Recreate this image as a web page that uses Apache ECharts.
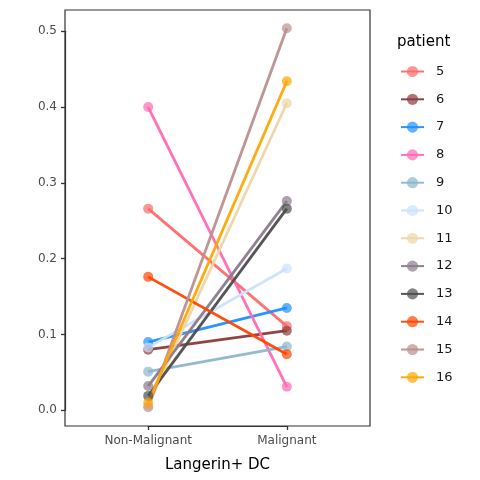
<!DOCTYPE html>
<html>
<head>
<meta charset="utf-8">
<script src="https://cdn.jsdelivr.net/npm/echarts@6/dist/echarts.min.js"></script>
<style>html,body{margin:0;padding:0;background:#fff}#c{width:480px;height:480px}</style>
</head>
<body>
<div id="c"></div>
<script>
const categories = ['Non-Malignant', 'Malignant'];
const patients = ['5','6','7','8','9','10','11','12','13','14','15','16'];
const nonMalignant = [0.266, 0.080, 0.090, 0.400, 0.051, 0.083, 0.007, 0.032, 0.019, 0.176, 0.004, 0.010];
const malignant    = [0.111, 0.105, 0.135, 0.031, 0.084, 0.187, 0.405, 0.276, 0.266, 0.074, 0.504, 0.434];
const colors = ['#FF6A6A', '#8B3A3A', '#1E90FF', '#FF69B4', '#8DB6CD', '#CAE1FF', '#EED5A8', '#8B7B8B', '#4D4D4D', '#FF4500', '#BC8F8F', '#FFA500'];
const yTickMin = 0, yTickMax = 0.5, yTickStep = 0.1;

const font = 'DejaVu Sans';
const W = 480, H = 480;
const G = { left: 65, right: 110, top: 10, bottom: 54 };
const yMin = -0.0207, yMax = 0.528;
const xMin = 0.4, xMax = 2.6;
const pw = W - G.left - G.right, ph = H - G.top - G.bottom;
const yGrid = {
  left: G.left, right: G.right,
  top: G.top + (yMax - yTickMax) / (yMax - yMin) * ph,
  bottom: G.bottom + (yTickMin - yMin) / (yMax - yMin) * ph
};
const xGrid = {
  left: G.left + (1 - xMin) / (xMax - xMin) * pw,
  right: G.right + (xMax - categories.length) / (xMax - xMin) * pw,
  top: G.top, bottom: G.bottom
};

const series = patients.map((p, i) => ({
  name: p,
  type: 'line',
  xAxisIndex: 0, yAxisIndex: 0,
  data: [[1, nonMalignant[i]], [2, malignant[i]]],
  symbol: 'circle',
  symbolSize: 10,
  showSymbol: true,
  color: colors[i],
  lineStyle: { width: 2.8, color: colors[i], opacity: 0.95 },
  itemStyle: { color: colors[i], opacity: 0.7 },
  emphasis: { disabled: true },
  animation: false
}));

function tick() { return { show: true, inside: false, length: 4, lineStyle: { color: '#333333', width: 1.3, opacity: 1 } }; }
function line() { return { show: true, onZero: false, lineStyle: { color: '#333333', width: 1.2 } }; }

const chart = echarts.init(document.getElementById('c'), null, { renderer: 'canvas' });
chart.setOption({
  backgroundColor: '#fff',
  animation: false,
  textStyle: { fontFamily: font },
  title: {
    text: 'patient', left: 392, top: 30,
    textStyle: { fontFamily: font, fontSize: 15, fontWeight: 'normal', color: '#000' }
  },
  legend: {
    orient: 'vertical', left: 395, top: 60,
    itemWidth: 23, itemHeight: 14, itemGap: 14.8,
    data: patients,
    textStyle: { fontFamily: font, fontSize: 13, color: '#1a1a1a', padding: [0, 0, 0, 7] }
  },
  grid: [
    { left: G.left, right: G.right, top: G.top, bottom: G.bottom,
      show: true, borderColor: '#333', borderWidth: 1.2, backgroundColor: 'transparent' },
    { left: yGrid.left, right: yGrid.right, top: yGrid.top, bottom: yGrid.bottom, show: false },
    { left: xGrid.left, right: xGrid.right, top: xGrid.top, bottom: xGrid.bottom, show: false }
  ],
  xAxis: [
    { gridIndex: 0, type: 'value', min: xMin, max: xMax, show: false, splitLine: { show: false } },
    { gridIndex: 1, type: 'value', min: 0, max: 1, show: false, splitLine: { show: false } },
    // ticks only
    { gridIndex: 2, type: 'value', min: 1, max: categories.length, interval: 1, position: 'bottom', offset: 0,
      splitLine: { show: false },
      axisLine: line(),
      axisTick: tick(),
      axisLabel: { show: false } },
    // labels + title only
    { gridIndex: 2, type: 'value', min: 1, max: categories.length, interval: 1, position: 'bottom', offset: 0,
      name: 'Langerin+ DC', nameLocation: 'middle', nameGap: 32,
      nameTextStyle: { fontFamily: font, fontSize: 15, color: '#000' },
      splitLine: { show: false },
      axisLine: { show: false, onZero: false },
      axisTick: { show: false },
      axisLabel: { margin: 9, fontFamily: font, fontSize: 12, color: '#4D4D4D',
        formatter: v => categories[Math.round(v) - 1] || '' } }
  ],
  yAxis: [
    { gridIndex: 0, type: 'value', min: yMin, max: yMax, show: false, splitLine: { show: false } },
    // ticks only
    { gridIndex: 1, type: 'value', min: yTickMin, max: yTickMax, interval: yTickStep, position: 'left', offset: 0,
      splitLine: { show: false },
      axisLine: line(),
      axisTick: tick(),
      axisLabel: { show: false } },
    { gridIndex: 2, type: 'value', min: 0, max: 1, show: false, splitLine: { show: false } },
    // labels only
    { gridIndex: 1, type: 'value', min: yTickMin, max: yTickMax, interval: yTickStep, position: 'left', offset: 0,
      splitLine: { show: false },
      axisLine: { show: false, onZero: false },
      axisTick: { show: false },
      axisLabel: { margin: 8, fontFamily: font, fontSize: 12, color: '#4D4D4D',
        formatter: v => v.toFixed(1) } }
  ],
  series: series
});
</script>
</body>
</html>
